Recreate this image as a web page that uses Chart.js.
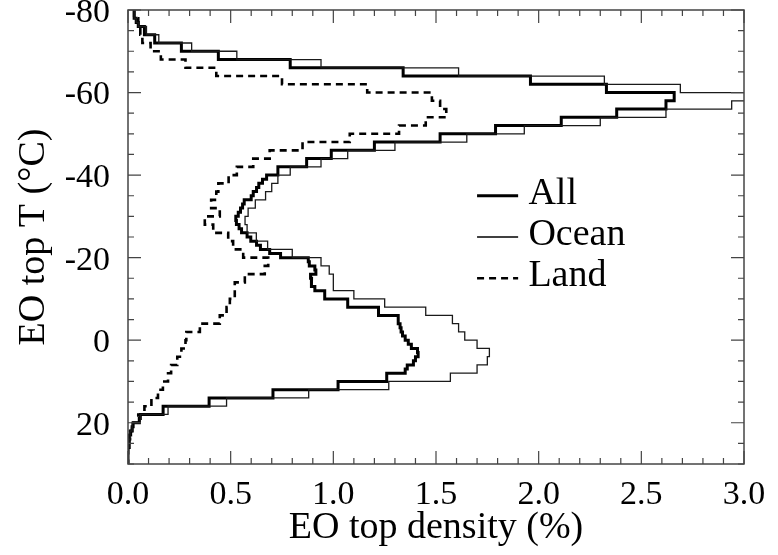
<!DOCTYPE html>
<html>
<head>
<meta charset="utf-8">
<script src="https://cdn.jsdelivr.net/npm/chart.js@4.4.1/dist/chart.umd.min.js"></script>
<style>
  html, body { margin: 0; padding: 0; background: #fff; }
  #wrap { width: 778px; height: 555px; }
</style>
</head>
<body>
<div id="wrap"><canvas id="eoChart" width="778" height="555"></canvas></div>
<script>
// 1 degC temperature bins (lower edges, -80 ... 29)
const tempBins = Array.from({ length: 110 }, (_, i) => -80 + i);

// EO top density (%) per bin, 10 bins per row
const allDensity = [
    0.03, 0.03, 0.04, 0.05, 0.08, 0.08, 0.13, 0.13, 0.26, 0.26,
    0.44, 0.44, 0.79, 0.79, 1.34, 1.34, 1.96, 1.96, 2.33, 2.33,
    2.66, 2.66, 2.62, 2.62, 2.38, 2.38, 2.11, 2.11, 1.79, 1.79,
    1.52, 1.52, 1.20, 1.20, 0.99, 0.99, 0.87, 0.87, 0.73, 0.73,
    0.675, 0.655, 0.637, 0.626, 0.61, 0.60, 0.566, 0.558, 0.548, 0.537,
    0.525, 0.528, 0.541, 0.553, 0.58, 0.598, 0.626, 0.645, 0.69, 0.743,
    0.878, 0.883, 0.91, 0.915, 0.889, 0.894, 0.893, 0.91, 0.958, 0.958,
    1.07, 1.07, 1.22, 1.22, 1.316, 1.316, 1.325, 1.33, 1.337, 1.35,
    1.365, 1.38, 1.41, 1.413, 1.40, 1.39, 1.36, 1.35, 1.26, 1.26,
    1.023, 1.023, 0.706, 0.706, 0.395, 0.395, 0.171, 0.171, 0.06, 0.055,
    0.025, 0.02, 0.013, 0.006, 0.006, 0.006, 0, 0, 0, 0
];
const oceanDensity = [
    0.03, 0.03, 0.04, 0.05, 0.09, 0.09, 0.15, 0.15, 0.31, 0.31,
    0.53, 0.53, 0.94, 0.94, 1.61, 1.61, 2.32, 2.32, 2.69, 2.69,
    3.10, 3.10, 2.94, 2.94, 2.62, 2.62, 2.30, 2.30, 1.93, 1.93,
    1.65, 1.65, 1.30, 1.30, 1.07, 1.07, 0.94, 0.94, 0.79, 0.79,
    0.73, 0.73, 0.70, 0.70, 0.67, 0.67, 0.62, 0.62, 0.585, 0.585,
    0.57, 0.57, 0.58, 0.58, 0.625, 0.625, 0.68, 0.68, 0.80, 0.80,
    0.94, 0.94, 0.98, 0.98, 1.0, 1.0, 1.0, 1.0, 1.10, 1.10,
    1.25, 1.25, 1.45, 1.45, 1.58, 1.58, 1.61, 1.61, 1.64, 1.64,
    1.70, 1.70, 1.76, 1.76, 1.75, 1.75, 1.70, 1.70, 1.57, 1.57,
    1.27, 1.27, 0.88, 0.88, 0.48, 0.48, 0.195, 0.195, 0.06, 0.06,
    0.02, 0.02, 0.01, 0.01, 0.005, 0.005, 0, 0, 0, 0
];
const landDensity = [
    0.03, 0.03, 0.05, 0.05, 0.06, 0.06, 0.07, 0.07, 0.11, 0.11,
    0.16, 0.16, 0.28, 0.28, 0.43, 0.43, 0.75, 0.75, 1.165, 1.165,
    1.48, 1.48, 1.52, 1.52, 1.55, 1.55, 1.45, 1.45, 1.32, 1.32,
    1.08, 1.08, 0.85, 0.85, 0.69, 0.69, 0.61, 0.61, 0.53, 0.53,
    0.49, 0.49, 0.44, 0.44, 0.43, 0.43, 0.405, 0.405, 0.447, 0.447,
    0.374, 0.374, 0.415, 0.415, 0.488, 0.488, 0.512, 0.512, 0.561, 0.561,
    0.683, 0.683, 0.666, 0.666, 0.569, 0.569, 0.52, 0.52, 0.52, 0.52,
    0.496, 0.496, 0.48, 0.48, 0.447, 0.447, 0.35, 0.35, 0.284, 0.284,
    0.28, 0.28, 0.26, 0.26, 0.24, 0.24, 0.21, 0.21, 0.195, 0.195,
    0.17, 0.17, 0.146, 0.146, 0.114, 0.114, 0.08, 0.08, 0.05, 0.05,
    0.02, 0.02, 0.01, 0.01, 0.005, 0.005, 0, 0, 0, 0
];

const xTicks = [0, 0.5, 1.0, 1.5, 2.0, 2.5, 3.0];
const yTicks = [-80, -60, -40, -20, 0, 20];
const seriesNames = ['All', 'Ocean', 'Land'];

const serif = 'Liberation Serif, Times New Roman, serif';

// histogram drawn as a step outline: each bin is a vertical run at its density
function stepPoints(values) {
    const pts = [];
    tempBins.forEach((t, i) => {
        pts.push({ x: values[i], y: t });
        pts.push({ x: values[i], y: t + 1 });
    });
    return pts;
}

// box with inward major/minor ticks on all four sides
const framePlugin = {
    id: 'frame',
    afterDraw(chart) {
        const { ctx, chartArea: a, scales: { x, y } } = chart;
        ctx.save();
        ctx.strokeStyle = '#444';
        ctx.lineWidth = 1.5;
        ctx.strokeRect(a.left, a.top, a.right - a.left, a.bottom - a.top);
        ctx.lineWidth = 1.2;
        ctx.beginPath();
        for (let i = 0; i <= 30; i++) {
            const px = x.getPixelForValue(i / 10);
            const len = i % 5 === 0 ? 13 : 6;
            ctx.moveTo(px, a.bottom); ctx.lineTo(px, a.bottom - len);
            ctx.moveTo(px, a.top); ctx.lineTo(px, a.top + len);
        }
        for (let t = -80; t <= 30; t += 5) {
            const py = y.getPixelForValue(t);
            const len = t % 20 === 0 ? 13 : 6;
            ctx.moveTo(a.left, py); ctx.lineTo(a.left + len, py);
            ctx.moveTo(a.right, py); ctx.lineTo(a.right - len, py);
        }
        ctx.stroke();
        ctx.restore();
    }
};

// legend sitting inside the plot, right of the curves
const insideLegend = {
    id: 'insideLegend',
    afterDraw(chart) {
        const { ctx, scales: { x, y } } = chart;
        const x0 = x.getPixelForValue(1.7);
        const x1 = x.getPixelForValue(1.9);
        const xt = x.getPixelForValue(1.95);
        const rows = [-35, -25, -15];
        const styles = [
            { w: 3, dash: [] },
            { w: 1.3, dash: [] },
            { w: 2.6, dash: [7, 5] }
        ];
        ctx.save();
        ctx.font = '38px ' + serif;
        ctx.fillStyle = '#000';
        ctx.textBaseline = 'middle';
        rows.forEach((t, i) => {
            const py = y.getPixelForValue(t);
            ctx.strokeStyle = '#000';
            ctx.lineWidth = styles[i].w;
            ctx.setLineDash(styles[i].dash);
            ctx.beginPath();
            ctx.moveTo(x0, py);
            ctx.lineTo(x1, py);
            ctx.stroke();
            ctx.fillText(seriesNames[i], xt, py - 2);
        });
        ctx.restore();
    }
};

const ctx = document.getElementById('eoChart');
new Chart(ctx, {
    type: 'scatter',
    data: {
        datasets: [{
            label: 'Ocean',
            data: stepPoints(oceanDensity),
            showLine: true,
            borderColor: '#1a1a1a',
            borderWidth: 1.3,
            pointRadius: 0,
            borderJoinStyle: 'miter'
        }, {
            label: 'Land',
            data: stepPoints(landDensity),
            showLine: true,
            borderColor: '#000',
            borderWidth: 2.6,
            borderDash: [7, 5],
            pointRadius: 0,
            borderJoinStyle: 'miter'
        }, {
            label: 'All',
            data: stepPoints(allDensity),
            showLine: true,
            borderColor: '#000',
            borderWidth: 3,
            pointRadius: 0,
            borderJoinStyle: 'miter'
        }]
    },
    options: {
        responsive: false,
        animation: false,
        devicePixelRatio: 1,
        layout: { padding: { left: 0, right: 34, top: 10, bottom: 0 } },
        plugins: {
            legend: { display: false },
            tooltip: { enabled: false }
        },
        scales: {
            x: {
                type: 'linear',
                position: 'bottom',
                min: 0,
                max: 3,
                afterBuildTicks: s => { s.ticks = xTicks.map(v => ({ value: v })); },
                afterFit: s => { s.height = 91; s.paddingLeft = 0; s.paddingRight = 0; },
                grid: { display: false },
                border: { display: false },
                ticks: {
                    callback: v => Number(v).toFixed(1),
                    color: '#000',
                    font: { family: serif, size: 34 },
                    padding: 3,
                    maxRotation: 0,
                    autoSkip: false
                },
                title: {
                    display: true,
                    text: 'EO top density (%)',
                    color: '#000',
                    font: { family: serif, size: 38 },
                    padding: { top: 0, bottom: 4 }
                }
            },
            y: {
                type: 'linear',
                reverse: true,
                min: -80,
                max: 30,
                afterBuildTicks: s => { s.ticks = yTicks.map(v => ({ value: v })); },
                afterFit: s => { s.width = 128; s.paddingTop = 0; s.paddingBottom = 0; },
                grid: { display: false },
                border: { display: false },
                ticks: {
                    color: '#000',
                    font: { family: serif, size: 34 },
                    padding: 10,
                    labelOffset: 3,
                    autoSkip: false
                },
                title: {
                    display: true,
                    text: 'EO top T (°C)',
                    color: '#000',
                    font: { family: serif, size: 38 },
                    padding: { top: 11, bottom: 0 }
                }
            }
        }
    },
    plugins: [framePlugin, insideLegend]
});
</script>
</body>
</html>
